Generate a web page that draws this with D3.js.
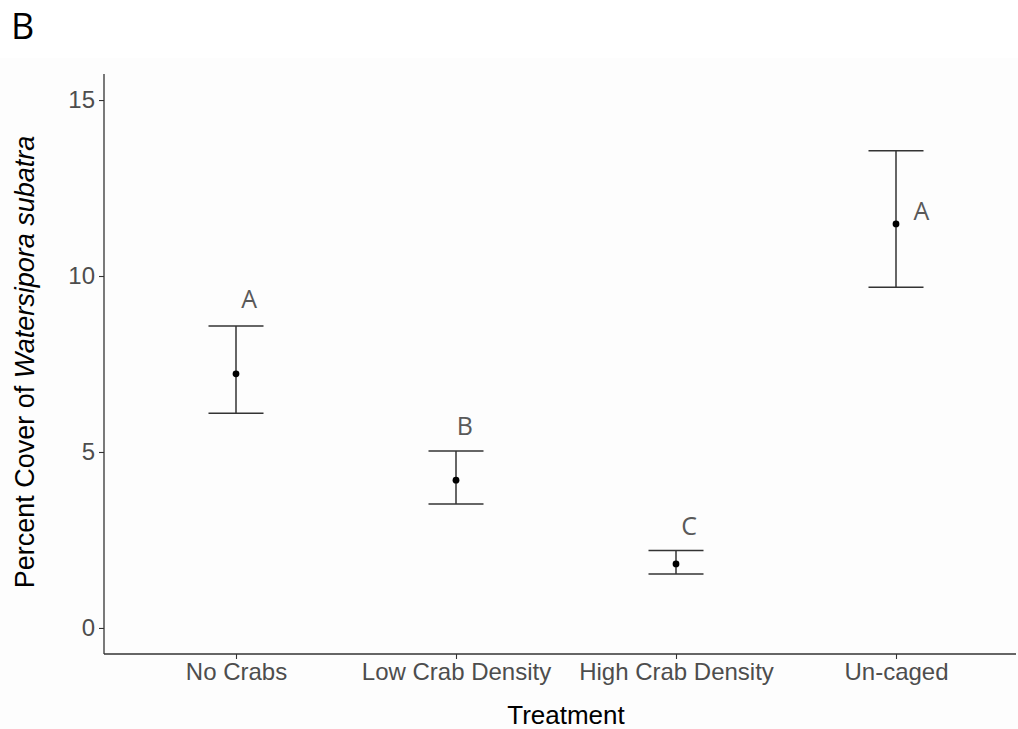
<!DOCTYPE html>
<html>
<head>
<meta charset="utf-8">
<script src="https://cdn.jsdelivr.net/npm/d3@7"></script>
<style>
  body { margin: 0; background: #fff; }
  svg { display: block; }
</style>
</head>
<body>
<div id="chart"></div>
<script>
var categories = ["No Crabs", "Low Crab Density", "High Crab Density", "Un-caged"];
var means = [7.22, 4.2, 1.82, 11.48];
var lower = [6.1, 3.52, 1.53, 9.68];
var upper = [8.58, 5.03, 2.2, 13.56];
var letters = ["A", "B", "C", "A"];
var letterY = [9.38, 5.77, 2.93, 11.87];
var yTicks = [0, 5, 10, 15];

var width = 1018, height = 729;
var margin = {top: 74, left: 104, bottom: 75};

var svg = d3.select("#chart").append("svg")
  .attr("width", width)
  .attr("height", height);

// faint panel background
svg.append("rect")
  .attr("x", 0).attr("y", 58)
  .attr("width", width).attr("height", height - 58)
  .attr("fill", "#fdfdfd");

var x = d3.scalePoint()
  .domain(categories)
  .range([margin.left, 1028])
  .padding(0.6);

var y = d3.scaleLinear()
  .domain([-0.74, 15.74])
  .range([height - margin.bottom, margin.top]);

var step = x.step();
var capW = step * 0.125;

// axes
var yAxis = svg.append("g")
  .attr("transform", "translate(" + margin.left + ",0)")
  .call(d3.axisLeft(y).tickValues(yTicks).tickSize(5).tickPadding(4));
var xAxis = svg.append("g")
  .attr("transform", "translate(0," + (height - margin.bottom) + ")")
  .call(d3.axisBottom(x).tickSize(5).tickPadding(4));

[yAxis, xAxis].forEach(function(g){
  g.select(".domain").remove();
  g.selectAll(".tick line").attr("stroke", "#333").attr("stroke-width", 1.1);
  g.selectAll(".tick text")
    .style("font-family", "'Liberation Sans', Arial, sans-serif")
    .style("font-size", "24px")
    .attr("fill", "#4d4d4d");
});

svg.append("line")
  .attr("x1", margin.left).attr("x2", margin.left)
  .attr("y1", margin.top).attr("y2", height - margin.bottom)
  .attr("stroke", "#333").attr("stroke-width", 1.3);
svg.append("line")
  .attr("x1", margin.left).attr("x2", 1016)
  .attr("y1", height - margin.bottom).attr("y2", height - margin.bottom)
  .attr("stroke", "#333").attr("stroke-width", 1.3);

// error bars
var bars = svg.append("g").selectAll("g")
  .data(categories)
  .enter().append("g");

bars.append("line")
  .attr("x1", function(d){ return x(d); })
  .attr("x2", function(d){ return x(d); })
  .attr("y1", function(d, i){ return y(lower[i]); })
  .attr("y2", function(d, i){ return y(upper[i]); })
  .attr("stroke", "#333").attr("stroke-width", 1.5);

bars.append("line")
  .attr("x1", function(d){ return x(d) - capW; })
  .attr("x2", function(d){ return x(d) + capW; })
  .attr("y1", function(d, i){ return y(upper[i]); })
  .attr("y2", function(d, i){ return y(upper[i]); })
  .attr("stroke", "#333").attr("stroke-width", 1.5);

bars.append("line")
  .attr("x1", function(d){ return x(d) - capW; })
  .attr("x2", function(d){ return x(d) + capW; })
  .attr("y1", function(d, i){ return y(lower[i]); })
  .attr("y2", function(d, i){ return y(lower[i]); })
  .attr("stroke", "#333").attr("stroke-width", 1.5);

bars.append("circle")
  .attr("cx", function(d){ return x(d); })
  .attr("cy", function(d, i){ return y(means[i]); })
  .attr("r", 3.4)
  .attr("fill", "#000");

// significance letters
var nudge = [0.06, 0.04, 0.06, 0.115];
bars.append("text")
  .attr("x", function(d, i){ return x(d) + nudge[i] * step; })
  .attr("y", function(d, i){ return y(letterY[i]); })
  .attr("text-anchor", "middle")
  .attr("dominant-baseline", "central")
  .style("font-family", "'Open Sans', sans-serif")
  .style("font-size", "25px")
  .attr("fill", "#595959")
  .text(function(d, i){ return letters[i]; });

// axis titles
svg.append("text")
  .attr("x", 566)
  .attr("y", 724)
  .attr("text-anchor", "middle")
  .style("font-family", "'Liberation Sans', Arial, sans-serif")
  .style("font-size", "26px")
  .attr("fill", "#000")
  .text("Treatment");

var yt = svg.append("text")
  .attr("transform", "translate(34,362) rotate(-90)")
  .attr("text-anchor", "middle")
  .style("font-family", "'Liberation Sans', Arial, sans-serif")
  .style("font-size", "27px")
  .attr("fill", "#000");
yt.append("tspan").text("Percent Cover of ");
yt.append("tspan").style("font-style", "italic").text("Watersipora subatra");

// panel tag
svg.append("text")
  .attr("x", 11)
  .attr("y", 39)
  .style("font-family", "'Open Sans', sans-serif")
  .style("font-size", "36px")
  .attr("fill", "#000")
  .text("B");
</script>
</body>
</html>
